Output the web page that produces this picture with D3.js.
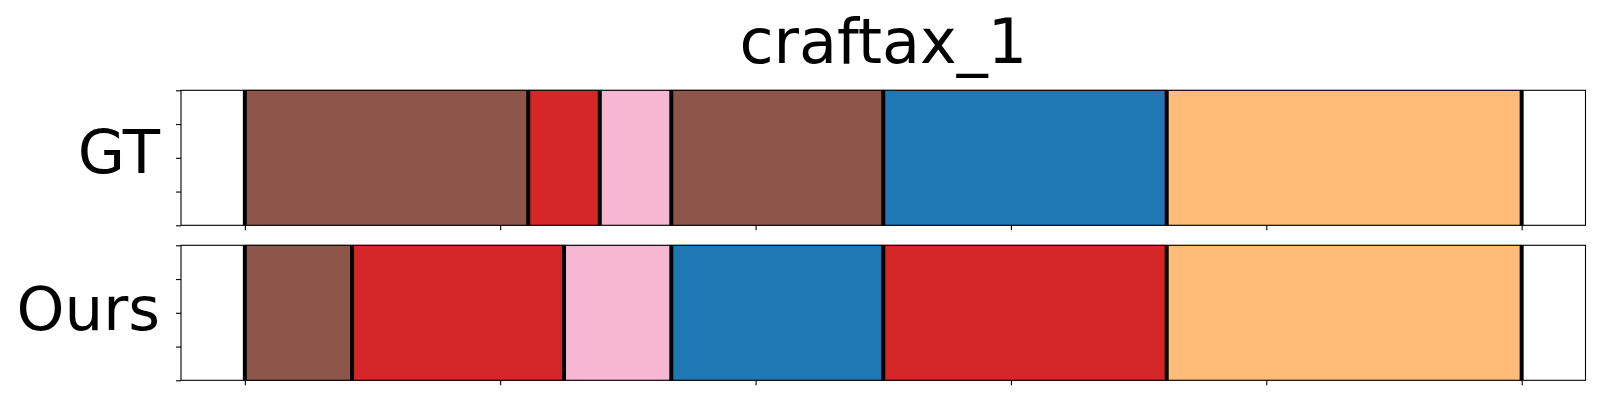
<!DOCTYPE html>
<html>
<head>
<meta charset="utf-8">
<script src="https://cdn.jsdelivr.net/npm/d3@7"></script>
<style>
  html, body { margin: 0; padding: 0; background: #fff; }
  svg { display: block; }
</style>
</head>
<body>
<div id="chart"></div>
<script>
// ---- data ----
const rows = ["GT", "Ours"];
const gtStarts  = [0, 111, 139, 167, 250, 361];
const gtEnds    = [111, 139, 167, 250, 361, 500];
const gtLabels  = ["brown", "red", "pink", "brown", "blue", "orange"];
const oursStarts = [0, 42, 125, 167, 250, 361];
const oursEnds   = [42, 125, 167, 250, 361, 500];
const oursLabels = ["brown", "red", "pink", "blue", "red", "orange"];
const xTicks = [0, 100, 200, 300, 400, 500];
const yTicks = [0, 0.25, 0.5, 0.75, 1];
const title = "craftax_1";

const colorMap = {
  brown: "#8c564b", red: "#d62728", pink: "#f7b6d2",
  blue: "#1f77b4", orange: "#ffbb78"
};

const series = [
  { name: rows[0], starts: gtStarts, ends: gtEnds, labels: gtLabels },
  { name: rows[1], starts: oursStarts, ends: oursEnds, labels: oursLabels }
];

// ---- layout ----
const W = 1600, H = 400;
const left = 181, right = 1585.5;
const panelTops = [90.3, 245.3];
const panelH = 135;
const font = "DejaVu Sans, Liberation Sans, sans-serif";

const svg = d3.select("#chart").append("svg")
  .attr("width", W).attr("height", H);

const x = d3.scaleLinear().domain([-25, 525]).range([left, right]);

svg.append("text")
  .attr("x", (left + right) / 2).attr("y", 63)
  .attr("text-anchor", "middle")
  .attr("font-family", font).attr("font-size", 62)
  .attr("fill", "#000")
  .text(title);

series.forEach((s, i) => {
  const top = panelTops[i];
  const y = d3.scaleLinear().domain([0, 1]).range([top + panelH, top]);
  const g = svg.append("g");

  const segs = s.starts.map((st, k) => ({ st, en: s.ends[k], c: colorMap[s.labels[k]] }));

  // colored spans
  g.selectAll("rect.seg").data(segs).enter().append("rect")
    .attr("class", "seg")
    .attr("x", d => x(d.st)).attr("width", d => x(d.en) - x(d.st))
    .attr("y", y(1)).attr("height", y(0) - y(1))
    .attr("fill", d => d.c)
    .attr("stroke", d => d3.color(d.c).darker(0.35))
    .attr("stroke-width", 1);

  // boundary lines
  const bounds = Array.from(new Set([...s.starts, ...s.ends])).sort((a, b) => a - b);
  g.selectAll("line.bound").data(bounds).enter().append("line")
    .attr("class", "bound")
    .attr("x1", d => x(d)).attr("x2", d => x(d))
    .attr("y1", y(1)).attr("y2", y(0))
    .attr("stroke", "#000").attr("stroke-width", 4);

  // axes
  const xAxis = d3.axisBottom(x).tickValues(xTicks).tickSize(5).tickFormat("");
  const yAxis = d3.axisLeft(y).tickValues(yTicks).tickSize(5).tickFormat("");
  const gx = g.append("g").attr("transform", `translate(0,${y(0)})`).call(xAxis);
  const gy = g.append("g").attr("transform", `translate(${left},0)`).call(yAxis);
  [gx, gy].forEach(a => {
    a.select(".domain").remove();
    a.selectAll(".tick line").attr("stroke", "#000").attr("stroke-width", 1.1);
  });

  // spines
  g.append("rect")
    .attr("x", left).attr("y", top)
    .attr("width", right - left).attr("height", panelH)
    .attr("fill", "none").attr("stroke", "#000").attr("stroke-width", 1.1);

  // row label
  g.append("text")
    .attr("x", 160).attr("y", i === 0 ? 173.3 : 330)
    .attr("text-anchor", "end")
    .attr("font-family", font).attr("font-size", 61)
    .attr("fill", "#000")
    .text(s.name);
});
</script>
</body>
</html>
